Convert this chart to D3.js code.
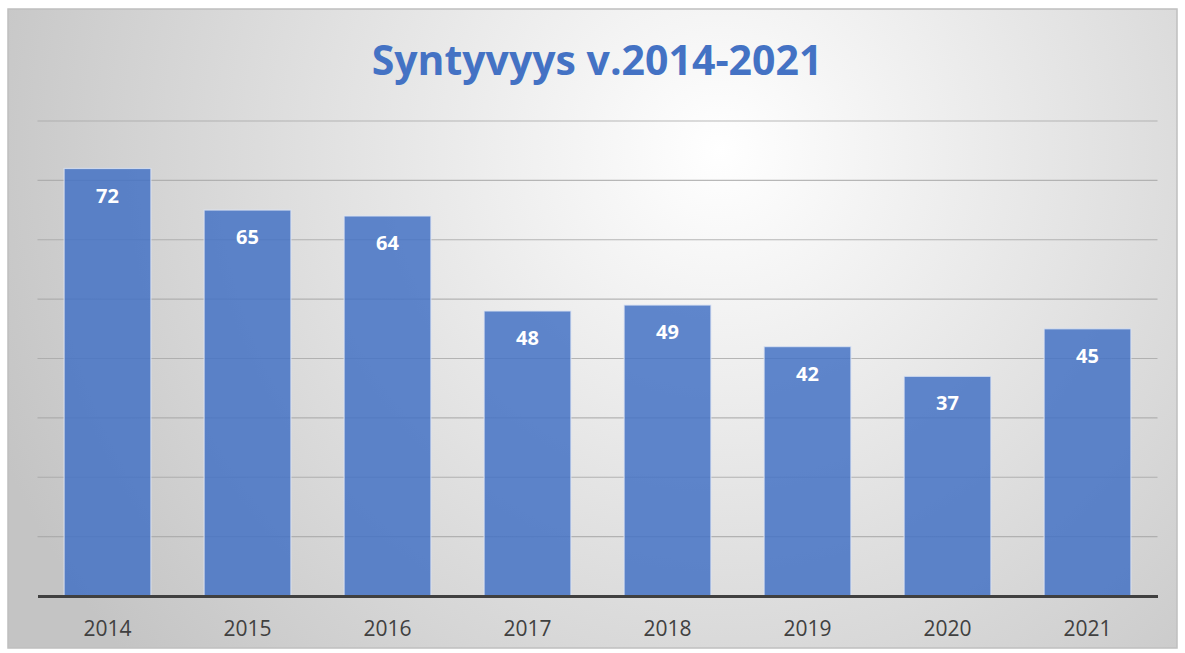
<!DOCTYPE html>
<html>
<head>
<meta charset="utf-8">
<script src="https://cdn.jsdelivr.net/npm/d3@7"></script>
<style>
  body { margin: 0; background: #fff; }
  svg { display: block; font-family: "Open Sans", "Noto Sans", sans-serif; }
</style>
</head>
<body>
<svg id="chart" width="1185" height="653"></svg>
<script>
// Data
const years = ['2014', '2015', '2016', '2017', '2018', '2019', '2020', '2021']
const births = [72, 65, 64, 48, 49, 42, 37, 45]
const yTicks = [0, 10, 20, 30, 40, 50, 60, 70, 80]
const title = 'Syntyvyys v.2014-2021'

const size = { width: 1185, height: 653 }
const frame = { x: 8, y: 9, w: 1169, h: 639 }
const plot = { left: 37.5, right: 1157.5, top: 121, bottom: 596 }

const svg = d3.select('#chart')

// Background gradient
const defs = svg.append('defs')
const grad = defs.append('radialGradient')
  .attr('id', 'bg')
  .attr('gradientUnits', 'userSpaceOnUse')
  .attr('cx', 720).attr('cy', 150).attr('r', 780)
grad.append('stop').attr('offset', '0%').attr('stop-color', '#ffffff')
grad.append('stop').attr('offset', '100%').attr('stop-color', '#c4c4c4')

svg.append('rect')
  .attr('x', frame.x).attr('y', frame.y)
  .attr('width', frame.w).attr('height', frame.h)
  .attr('fill', 'url(#bg)')
  .attr('stroke', '#bfbfbf')
  .attr('stroke-width', 1.5)

// Scales
const x = d3.scaleBand()
  .domain(years)
  .range([plot.left, plot.right])
  .paddingInner(0.38)
  .paddingOuter(0.19)

const y = d3.scaleLinear()
  .domain([0, 80])
  .range([plot.bottom, plot.top])

// Gridlines
svg.append('g')
  .selectAll('line')
  .data(yTicks.slice(1))
  .join('line')
    .attr('x1', plot.left)
    .attr('x2', plot.right)
    .attr('y1', d => y(d))
    .attr('y2', d => y(d))
    .attr('stroke', '#a6a6a6')
    .attr('stroke-opacity', 0.8)
    .attr('stroke-width', 1.2)

// Bars
const data = years.map((yr, i) => ({ year: yr, value: births[i] }))
svg.append('g')
  .selectAll('rect')
  .data(data)
  .join('rect')
    .attr('x', d => x(d.year))
    .attr('y', d => y(d.value))
    .attr('width', x.bandwidth())
    .attr('height', d => y(0) - y(d.value))
    .attr('fill', '#4472c4')
    .attr('fill-opacity', 0.85)
    .attr('stroke', '#dce4f2')
    .attr('stroke-opacity', 0.8)
    .attr('stroke-width', 1.2)

// Value labels
svg.append('g')
  .selectAll('text')
  .data(data)
  .join('text')
    .attr('x', d => x(d.year) + x.bandwidth() / 2)
    .attr('y', d => y(d.value) + 34)
    .attr('text-anchor', 'middle')
    .attr('fill', '#ffffff')
    .attr('font-weight', 'bold')
    .attr('font-size', 20)
    .text(d => d.value)

// X axis
const xAxis = svg.append('g')
  .attr('transform', 'translate(0,' + plot.bottom + ')')
  .call(d3.axisBottom(x).tickSize(0).tickPadding(25))
xAxis.select('.domain')
  .attr('stroke', '#404040')
  .attr('stroke-width', 3)
xAxis.selectAll('.tick text')
  .attr('fill', '#404040')
  .attr('font-size', 21)
  .attr('font-family', '"Open Sans", "Noto Sans", sans-serif')

// Title
svg.append('text')
  .attr('x', 597)
  .attr('y', 75)
  .attr('text-anchor', 'middle')
  .attr('fill', '#4472c4')
  .attr('font-weight', 'bold')
  .attr('font-size', 41)
  .text(title)
</script>
</body>
</html>
